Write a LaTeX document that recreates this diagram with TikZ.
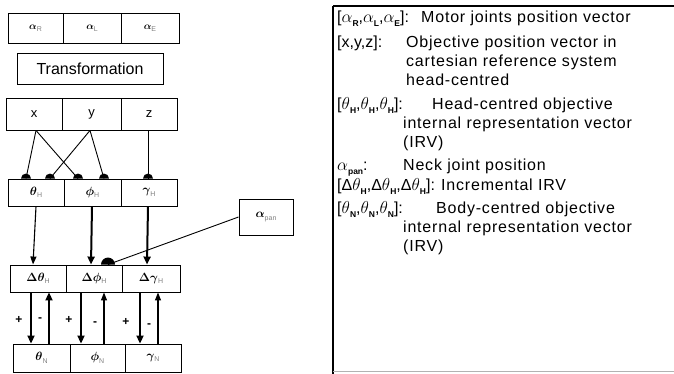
\documentclass[tikz,border=0pt]{standalone}
\usepackage{fontspec}
\setmainfont{Liberation Sans}
\usetikzlibrary{arrows.meta}
\newcommand\sbs[1]{\raisebox{-0.25em}{\fontsize{8.5}{8.5}\selectfont\bfseries #1}}
\newcommand\gsub[1]{\raisebox{-0.2em}{\fontsize{7}{7}\selectfont\color{gray}#1}}
\begin{document}
\begin{tikzpicture}[x=1pt,y=1pt,
  box/.style 2 args={draw,line width=0.9pt,minimum width=#1,minimum height=#2,inner sep=0pt},
  small/.style={font=\fontsize{10}{10}\selectfont\boldmath},
  mid/.style={font=\fontsize{13}{13}\selectfont},
  greek/.style={font=\fontsize{12}{12}\selectfont\boldmath},
  link/.style={line width=0.9pt},
  arr/.style={line width=1.1pt,-{Triangle[length=8pt,width=6pt]}},
  arrthick/.style={line width=2pt,-{Triangle[length=8pt,width=7pt]}},
  sign/.style={font=\fontsize{12}{12}\selectfont\bfseries,inner sep=0pt},
  legend/.style={anchor=base west,inner sep=0pt,font=\fontsize{16}{16}\selectfont\addfontfeature{LetterSpace=5}},
  legkey/.style={anchor=base west,inner sep=0pt,font=\fontsize{16}{16}\selectfont},
  pics/knob/.style={code={\fill (#1,0) arc[start angle=0,end angle=180,radius=#1] -- cycle;}}]
\useasboundingbox (0,0) rectangle (674,374);

% motor joint cells
\node[box={55}{30},small] (a1) at (35.5,346) {$\alpha$\gsub{R}};
\node[box={58}{30},small] (a2) at (92,346) {$\alpha$\gsub{L}};
\node[box={58}{30},small] (a3) at (150,346) {$\alpha$\gsub{E}};

\node[box={146}{31},font=\fontsize{16}{16}\selectfont] (tr) at (90,305.5) {Transformation};

% cartesian objective
\node[box={56}{32},mid] (cx) at (34,260) {x};
\node[box={59}{32},mid] (cy) at (91.5,260) {y};
\node[box={56}{32},mid] (cz) at (149,260) {z};

% head-centred IRV
\node[box={56}{27},greek] (h1) at (36,181.5) {$\theta$\gsub{H}};
\node[box={57}{27},greek] (h2) at (92.5,181.5) {$\phi$\gsub{H}};
\node[box={56}{27},greek] (h3) at (149,181.5) {$\gamma$\gsub{H}};

% incremental IRV
\node[box={56}{27},greek] (d1) at (38,95.5) {$\Delta\theta$\gsub{H}};
\node[box={56}{27},greek] (d2) at (94,95.5) {$\Delta\phi$\gsub{H}};
\node[box={58}{27},greek] (d3) at (151,95.5) {$\Delta\gamma$\gsub{H}};

% body-centred IRV
\node[box={57}{28},greek] (b1) at (41.5,16) {$\theta$\gsub{N}};
\node[box={55}{28},greek] (b2) at (97.5,16) {$\phi$\gsub{N}};
\node[box={56}{28},greek] (b3) at (153,16) {$\gamma$\gsub{N}};

% neck joint
\node[box={54}{36},greek] (pan) at (266,157) {$\alpha$\gsub{pan}};

% x,y,z feed the head-centred representation
\draw[link] ([xshift=2pt]cx.south) -- ([xshift=-10pt]h1.north);
\draw[link] ([xshift=2pt]cx.south) -- ([xshift=-14.5pt]h2.north);
\draw[link] ([xshift=-1.5pt]cy.south) -- ([xshift=14pt]h1.north);
\draw[link] ([xshift=-1.5pt]cy.south) -- ([xshift=11.5pt]h2.north);
\draw[link] ([xshift=-1pt]cz.south) -- ([xshift=-1pt]h3.north);
\pic at ([xshift=-10pt]h1.north) {knob=5};
\pic at ([xshift=14pt]h1.north) {knob=5};
\pic at ([xshift=-14.5pt]h2.north) {knob=5};
\pic at ([xshift=11.5pt]h2.north) {knob=5};
\pic at ([xshift=-1pt]h3.north) {knob=5};

% head-centred to incremental
\draw[arr] (h1.south) -- ([xshift=-5pt]d1.north);
\draw[arrthick] ([xshift=-0.5pt]h2.south) -- ([xshift=-3pt]d2.north);
\draw[arrthick] ([xshift=-1pt]h3.south) -- ([xshift=-4pt]d3.north);

% neck joint input
\draw[link] (pan.west) -- ([xshift=14pt]d2.north);
\pic at ([xshift=14pt]d2.north) {knob=7};

% incremental to body-centred and back
\draw[arrthick] ([xshift=-7pt]d1.south) -- ([xshift=-10.5pt]b1.north);
\draw[arrthick] ([xshift=7.5pt]b1.north) -- ([xshift=11pt]d1.south);
\draw[arrthick] ([xshift=-13pt]d2.south) -- ([xshift=-16.5pt]b2.north);
\draw[arr] ([xshift=6.5pt]b2.north) -- ([xshift=10pt]d2.south);
\draw[arrthick] ([xshift=-11pt]d3.south) -- ([xshift=-13pt]b3.north);
\draw[arr] ([xshift=5pt]b3.north) -- ([xshift=7pt]d3.south);

\node[sign] (p1) at (19,54) {+};
\node[sign] (m1) at (40,54) {-};
\node[sign] (p2) at (69,54) {+};
\node[sign] (m2) at (95,50) {-};
\node[sign] (p3) at (126,52) {+};
\node[sign] (m3) at (149,48) {-};

% legend frame
\draw[line width=1.8pt] (333,368) -- (674,368);
\draw[line width=1.4pt] (333,368) -- (333,0);
\draw[line width=1pt,gray!60] (333,2) -- (674,2);

% legend text
\node[legkey] (l1) at (337,351.5) {[$\alpha$\sbs{R},$\alpha$\sbs{L},$\alpha$\sbs{E}]:};
\node[legend] (t1) at (421,351.5) {Motor joints position vector};
\node[legkey] (l2) at (337,326.5) {[x,y,z]:};
\node[legend] (t2) at (406,326.5) {Objective position vector in};
\node[legend] (t3) at (406,307.5) {cartesian reference system};
\node[legend] (t4) at (406,288.5) {head-centred};
\node[legkey] (l3) at (337,264.5) {[$\theta$\sbs{H},$\theta$\sbs{H},$\theta$\sbs{H}]:};
\node[legend] (t5) at (432,264.5) {Head-centred objective};
\node[legend] (t6) at (403,245.5) {internal representation vector};
\node[legend] (t7) at (403,226.5) {(IRV)};
\node[legkey] (l4) at (337,203.5) {$\alpha$\sbs{pan}:};
\node[legend] (t8) at (403,203.5) {Neck joint position};
\node[legkey] (l5) at (337,183.5) {[Δ$\theta$\sbs{H},Δ$\theta$\sbs{H},Δ$\theta$\sbs{H}]:};
\node[legend] (t9) at (441,183.5) {Incremental IRV};
\node[legkey] (l6) at (337,160.5) {[$\theta$\sbs{N},$\theta$\sbs{N},$\theta$\sbs{N}]:};
\node[legend] (t10) at (436,160.5) {Body-centred objective};
\node[legend] (t11) at (403,141.5) {internal representation vector};
\node[legend] (t12) at (403,122.5) {(IRV)};
\end{tikzpicture}
\end{document}
